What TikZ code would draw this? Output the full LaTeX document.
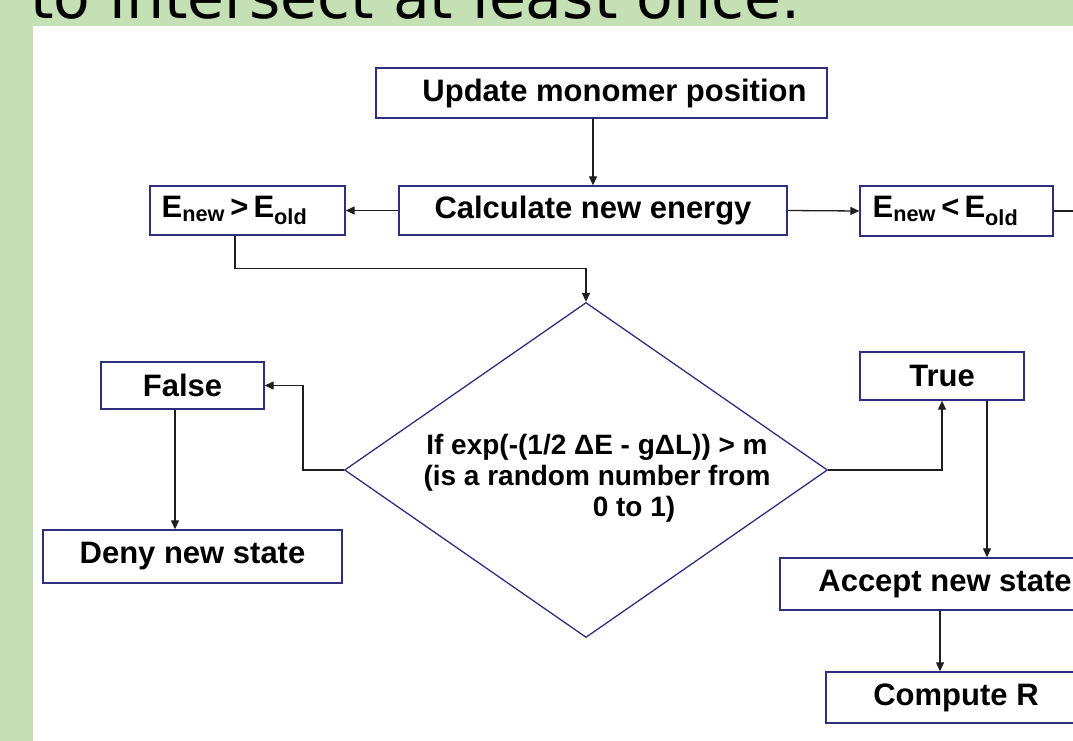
\documentclass[tikz,border=0pt]{standalone}
\usepackage{fontspec}
\setmainfont{Liberation Sans}
\newfontfamily\slidefont{DejaVu Sans}
\usetikzlibrary{shapes.geometric,arrows.meta}
\definecolor{slidegreen}{HTML}{C5E0B4}
\definecolor{boxline}{HTML}{2F2F80}
\definecolor{arrline}{HTML}{1E1E1E}
\begin{document}
\begin{tikzpicture}[x=1pt, y=-1pt,
  box/.style={draw=boxline, line width=1.4pt, fill=white, inner sep=0pt, font=\bfseries\fontsize{31}{36}\selectfont},
  decision/.style={draw=boxline, line width=1.3pt, shape=diamond, inner sep=0pt, minimum width=483pt, minimum height=335pt},
  condtext/.style={align=center, inner sep=0pt, font=\bfseries\fontsize{28}{31}\selectfont},
  arr/.style={draw=arrline, line width=1.3pt, -{Triangle[length=9pt,width=8pt]}}]
  \useasboundingbox (0,0) rectangle (1073,741);
  \clip (0,0) rectangle (1073,741);
  \fill[slidegreen] (0,0) rectangle (1073,741);
  \fill[white] (33,26) rectangle (1073,741);
  \node[anchor=base west, inner sep=0pt, font=\slidefont\fontsize{60}{72}\selectfont] (title) at (30,19) {to intersect at least once.};

  % boxes
  \node[box, minimum width=451pt, minimum height=50pt] (upd) at (601.5,93) {\hspace*{26pt}Update monomer position};
  \node[box, minimum width=388pt, minimum height=49pt] (calc) at (593,210.5) {Calculate new energy};
  \node[box, minimum width=195pt, minimum height=49pt] (gt) at (247.5,210.5) {E\textsubscript{new}\,>\,E\textsubscript{old}\hspace*{26pt}};
  \node[box, minimum width=193pt, minimum height=50pt] (lt) at (956.5,211) {E\textsubscript{new}\,<\,E\textsubscript{old}\hspace*{22pt}};
  \node[decision] (test) at (586,470) {};
  \node[condtext] (cond) at (597,478) {If exp(-(1/2 ΔE - gΔL)) > m\\(is a random number from\\\hspace*{74pt}0 to 1)};
  \node[box, minimum width=163pt, minimum height=47pt] (fls) at (182.5,385.5) {False};
  \node[box, minimum width=164pt, minimum height=48pt] (tru) at (942,376) {True};
  \node[box, minimum width=299pt, minimum height=53pt] (deny) at (192.5,556.5) {Deny new state};
  \node[box, minimum width=330pt, minimum height=52pt] (acc) at (945,584) {Accept new state};
  \node[box, minimum width=260pt, minimum height=51pt] (comp) at (956,697.5) {Compute R};
  \coordinate (edge) at (1078,211);

  % connectors
  \draw[arr] (calc.north |- upd.south) -- (calc.north);
  \draw[arr] (calc.west) -- (gt.east);
  \draw[arr] (calc.east) -- (lt.west);
  \draw[arr] (lt.east) -- (edge) -- (edge |- acc.north);
  \draw[arr] ([xshift=-12.5pt]gt.south) -- ++(0,33) -| (test.north);
  \draw[arr] (test.west) -- ++(-41,0) |- (fls.east);
  \draw[arr] ([xshift=-7.5pt]fls.south) -- ([xshift=-7.5pt]fls.south |- deny.north);
  \draw[arr] (test.east) -| (tru.south);
  \draw[arr] ([xshift=45pt]tru.south) -- ([xshift=45pt]tru.south |- acc.north);
  \draw[arr] ([xshift=-5pt]acc.south) -- ([xshift=-5pt]acc.south |- comp.north);
\end{tikzpicture}
\end{document}
